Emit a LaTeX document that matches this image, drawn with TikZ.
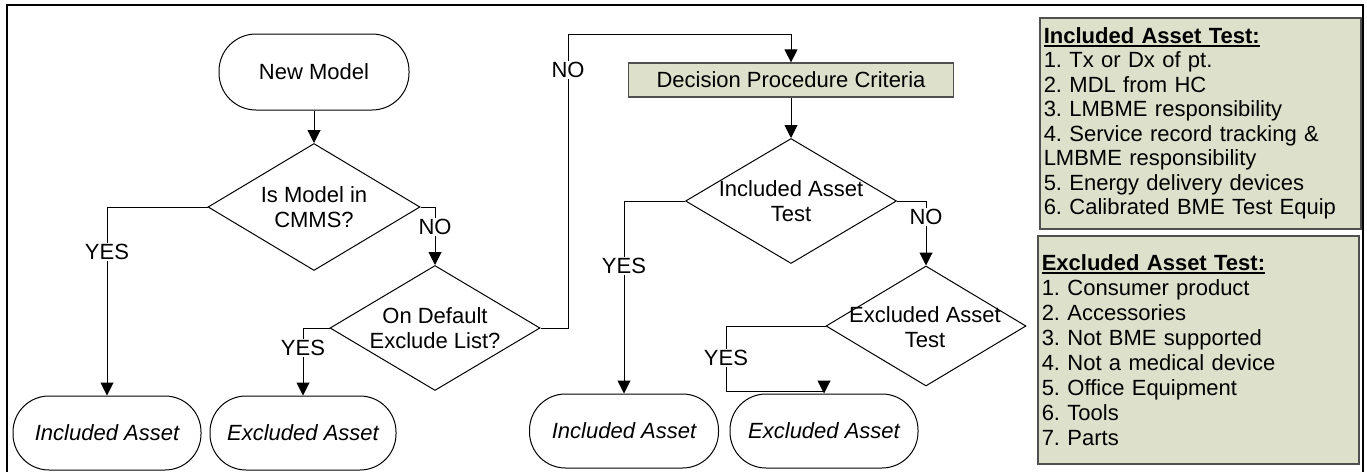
\documentclass[tikz,border=0pt]{standalone}
\usepackage{fontspec}
\setmainfont{Liberation Sans}
\usetikzlibrary{shapes.geometric,arrows.meta}
\definecolor{boxfill}{RGB}{221,224,203}
\definecolor{boxline}{RGB}{80,80,80}
\newcommand\ulbf[1]{\setbox0\hbox{\bfseries #1}\rlap{\rule[-3.5pt]{\wd0}{1.6pt}}\box0}
\frenchspacing
\begin{document}
\begin{tikzpicture}[x=1pt,y=-1pt,line width=1pt,
  txt/.style={font=\fontsize{22}{24.5}\selectfont},
  itxt/.style={font=\fontsize{22}{24.5}\selectfont\itshape},
  term/.style={txt,draw,rounded corners=36pt,minimum height=74pt,inner sep=0pt},
  dia/.style={draw,diamond,inner sep=0pt,minimum width=#1},
  dtext/.style={txt,align=center,inner sep=0pt},
  lbl/.style={txt,fill=white,inner sep=1pt},
  arr/.style={-{Triangle[width=13pt,length=13pt]}},
  notebox/.style={txt,draw=boxline,fill=boxfill,line width=1.5pt,align=left,anchor=north west,inner xsep=4pt,text width=313pt,minimum width=321pt}
]
\clip (0,0) rectangle (1367,471);
% outer frame
\draw[line width=2.2pt] (7,480) -- (7,5) -- (1363,5) -- (1363,480);

% terminals
\node[term,minimum width=190pt,minimum height=76pt,rounded corners=37pt] (start) at (314,72) {New Model};
\node[term,itxt,minimum width=188pt] (inc1) at (107,433) {Included Asset};
\node[term,itxt,minimum width=186pt] (exc1) at (303,433) {Excluded Asset};
\node[term,itxt,minimum width=189pt] (inc2) at (624,431) {Included Asset};
\node[term,itxt,minimum width=188pt] (exc2) at (824,431) {Excluded Asset};

% diamonds
\node[dia=212pt,minimum height=127pt] (d1) at (314,207) {};
\node[dtext] at (d1.center) {Is Model in\\CMMS?};
\node[dia=210pt,minimum height=125pt] (d2) at (435,328) {};
\node[dtext] at (d2.center) {On Default\\Exclude List?};
\node[dia=211pt,minimum height=125pt] (d3) at (791,201) {};
\node[dtext] at (d3.center) {Included Asset\\Test};
\node[dia=200pt,minimum height=120pt] (d4) at (926,326) {};
\node[dtext] at (925,327) {Excluded Asset\\Test};

% decision box
\node[txt,draw=boxline,fill=boxfill,line width=1.2pt,minimum width=325pt,minimum height=34pt,inner sep=0pt] (dpc) at (791,80) {Decision Procedure Criteria};

% connectors
\coordinate (c1) at (568,34);
\coordinate (c2) at (726,391);
\coordinate (c3) at (824,391);
\coordinate (c4) at (824,381);
\draw[arr] (start.south) -- (d1.north);
\draw[arr] (d1.west) -| (inc1.north);
\draw[arr] (d1.east) -| (d2.north);
\draw[arr] (d2.west) -| (exc1.north);
\draw[arr] (d2.east) -| (c1) -| (dpc.north);
\draw[arr] (dpc.south) -- (d3.north);
\draw[arr] (d3.west) -| (inc2.north);
\draw[arr] (d3.east) -| (d4.north);
\draw (d4.west) -| (c2) -- (c3);
\draw[arr] (c4) -- (exc2.north);

% labels
\node[lbl] at (107,252) {YES};
\node[lbl] at (435,227) {NO};
\node[lbl] at (303,348) {YES};
\node[lbl] at (568,70) {NO};
\node[lbl] at (624,266) {YES};
\node[lbl] at (926,217) {NO};
\node[lbl] at (726,358) {YES};

% note boxes
\node[notebox,minimum height=211pt] (box1) at (1039,17) {\ulbf{Included Asset Test:}\\
1. Tx or Dx of pt.\\
2. MDL from HC\\
3. LMBME responsibility\\
4. Service record tracking \&\\
LMBME responsibility\\
5. Energy delivery devices\\
6. Calibrated BME Test Equip};
\node[notebox,minimum height=228pt] (box2) at (1037,235) {\ulbf{Excluded Asset Test:}\\[0.5pt]
1. Consumer product\\[0.5pt]
2. Accessories\\[0.5pt]
3. Not BME supported\\[0.5pt]
4. Not a medical device\\[0.5pt]
5. Office Equipment\\[0.5pt]
6. Tools\\[0.5pt]
7. Parts};
\end{tikzpicture}
\end{document}
